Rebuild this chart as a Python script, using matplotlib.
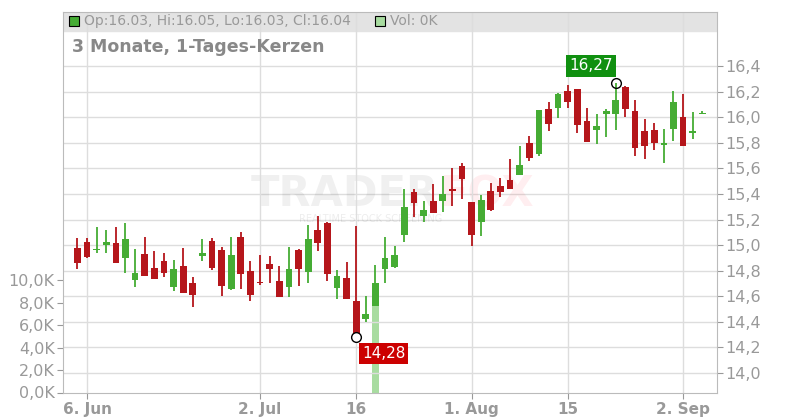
import matplotlib
matplotlib.use("Agg")
import matplotlib.pyplot as plt
import numpy as np
import pandas as pd
from matplotlib.patches import Rectangle

dates = pd.bdate_range("2024-06-05", periods=66)
opens = [14.977,15.024,14.967,15.003,15.016,14.902,14.730,14.930,14.821,14.875,14.675,14.836,14.704,14.917,15.032,14.961,14.654,15.063,14.797,14.719,
         14.852,14.719,14.675,14.961,14.792,15.118,15.172,14.667,14.743,14.562,14.419,14.523,14.815,14.831,15.081,15.416,15.229,15.344,15.346,15.437,
         15.617,15.338,15.180,15.422,15.461,15.508,15.547,15.794,15.711,16.060,16.073,16.203,16.218,15.969,15.903,16.021,16.028,16.237,16.047,15.893,
         15.898,15.789,15.906,16.002,15.885,16.030]
highs = [15.058,15.058,15.144,15.118,15.144,15.172,14.969,15.066,14.956,14.941,14.883,14.977,14.753,15.047,15.058,14.987,15.066,15.102,14.875,14.922,
         14.915,14.836,14.987,14.972,15.157,15.227,15.180,14.805,14.868,15.148,14.601,14.844,15.060,14.992,15.442,15.435,15.344,15.476,15.539,15.604,
         15.638,15.338,15.390,15.487,15.526,15.672,15.773,15.851,16.054,16.119,16.192,16.255,16.223,16.075,16.023,16.060,16.270,16.242,16.132,15.984,
         15.955,15.906,16.205,16.177,16.041,16.050]
lows = [14.813,14.896,14.941,14.941,14.862,14.784,14.675,14.758,14.737,14.753,14.644,14.628,14.519,14.878,14.805,14.605,14.649,14.659,14.566,14.691,
        14.706,14.592,14.597,14.683,14.706,14.956,14.722,14.576,14.581,14.280,14.401,14.523,14.706,14.818,15.026,15.221,15.182,15.252,15.260,15.307,
        15.364,14.992,15.070,15.268,15.372,15.437,15.547,15.658,15.695,15.893,15.995,16.075,15.877,15.807,15.789,15.846,15.903,16.002,15.695,15.672,
        15.747,15.643,15.815,15.773,15.828,16.030]
closes = [14.862,14.907,14.967,15.024,14.862,15.047,14.782,14.758,14.737,14.784,14.813,14.628,14.610,14.941,14.821,14.683,14.922,14.777,14.613,14.709,
          14.816,14.597,14.813,14.816,15.047,15.019,14.777,14.758,14.581,14.280,14.461,14.700,14.903,14.919,15.294,15.331,15.273,15.252,15.398,15.424,
          15.515,15.078,15.351,15.273,15.416,15.437,15.625,15.682,16.054,15.945,16.184,16.119,15.942,15.807,15.929,16.047,16.132,16.065,15.760,15.776,
          15.799,15.789,16.119,15.773,15.885,16.040]
volumes = [0]*66
volumes[31] = 7700
doji_green = {2, 61, 64, 65}

xtick_idx = [1, 19, 29, 41, 51, 63]
xtick_labels = ["6. Jun", "2. Jul", "16", "1. Aug", "15", "2. Sep"]
price_ticks = [14.0, 14.2, 14.4, 14.6, 14.8, 15.0, 15.2, 15.4, 15.6, 15.8, 16.0, 16.2, 16.4]
vol_ticks = [0, 2000, 4000, 6000, 8000, 10000]

RED = "#b5161b"; GREEN = "#45ac34"; GRAY = "#999999"; GRID = "#dddddd"

fig = plt.figure(figsize=(8, 4.2), dpi=100)
W, H = 800, 420
ax = fig.add_axes([63/W, 1-392.5/H, (716.7-63)/W, (392.5-11.7)/H])
x = np.arange(len(dates))
ax.set_xlim(-1.5, 64.5 + (716.7 - (68.3 + 64*9.9)) / 9.9 + 0.5)
ax.set_ylim(13.848, 16.824)

axv = ax.twinx()
axv.set_ylim(0, 381/11.25*1000)
axv.bar(x, volumes, width=0.7, color="#a8dca0", zorder=1)
axv.yaxis.tick_left()
axv.set_yticks(vol_ticks)
axv.set_yticklabels([f"{v/1000:.1f}K".replace(".", ",") for v in vol_ticks])
axv.tick_params(axis="y", colors=GRAY, labelcolor=GRAY, labelsize=11.5, length=4, pad=2)
for s in axv.spines.values():
    s.set_visible(False)
ax.set_zorder(axv.get_zorder() + 1)
ax.patch.set_visible(False)

for v in price_ticks:
    ax.axhline(v, color=GRID, lw=1, zorder=0)
for i in xtick_idx:
    ax.axvline(i, color=GRID, lw=1, zorder=0.7)

ax.axhspan(16.824 - 19/128, 16.824, color="#e3e3e3", zorder=0.5)

ax.text(0.575, 0.52, "TRADER", transform=ax.transAxes, ha="right", va="center",
        fontsize=30, fontweight="bold", color="#000000", alpha=0.06, zorder=0.6)
ax.text(0.575, 0.52, "FOX", transform=ax.transAxes, ha="left", va="center",
        fontsize=30, fontweight="bold", color="#ff3040", alpha=0.08, zorder=0.6)
ax.text(0.47, 0.455, "REALTIME STOCK SCREENING", transform=ax.transAxes, ha="center", va="center",
        fontsize=7, color="#000000", alpha=0.07, zorder=0.6)

for i in x:
    o, h, l, c = opens[i], highs[i], lows[i], closes[i]
    col = GREEN if (c > o or i in doji_green) else RED
    ax.vlines(i, l, h, color=col, lw=1.3, zorder=3)
    bh = max(abs(c - o), 0.012)
    ax.bar(i, bh, bottom=min(o, c) - (0.006 if abs(c-o) < 0.012 else 0), width=0.7, color=col, zorder=4, lw=0)

imin = int(np.argmin(lows)); imax = int(np.argmax(highs))
ax.plot(imin, lows[imin], "o", mfc="white", mec="black", ms=7, mew=1, zorder=5)
ax.plot(imax, highs[imax], "o", mfc="none", mec="black", ms=7, mew=1, zorder=5)
ax.text(imin + 0.6, lows[imin] - 0.13, f"{lows[imin]:.2f}".replace(".", ","), color="white", fontsize=11,
        ha="left", va="center", bbox=dict(boxstyle="square,pad=0.2", fc="#cc0000", ec="none"), zorder=6)
ax.text(imax - 0.3, highs[imax] + 0.13, f"{highs[imax]:.2f}".replace(".", ","), color="white", fontsize=11,
        ha="right", va="center", bbox=dict(boxstyle="square,pad=0.2", fc="#109010", ec="none"), zorder=6)

ax.yaxis.tick_right()
ax.set_yticks(price_ticks)
ax.set_yticklabels([f"{v:.1f}".replace(".", ",") for v in price_ticks])
ax.tick_params(axis="y", colors=GRAY, labelcolor=GRAY, labelsize=11.5, length=4, pad=2)
ax.set_xticks(xtick_idx)
ax.set_xticklabels(xtick_labels, fontweight="bold")
ax.tick_params(axis="x", colors=GRAY, labelcolor=GRAY, labelsize=11, length=4, pad=3)
for s in ax.spines.values():
    s.set_color("#bbbbbb")

fig.patches.append(Rectangle((69/W, 1-26/H), 10/W, 10/H, transform=fig.transFigure, fc=GREEN, ec="black", lw=0.8))
fig.text(84/W, 1-21/H, "Op:16.03, Hi:16.05, Lo:16.03, Cl:16.04", color=GRAY, fontsize=10, va="center")
fig.patches.append(Rectangle((375/W, 1-26/H), 10/W, 10/H, transform=fig.transFigure, fc="#a8dca0", ec="black", lw=0.8))
fig.text(390/W, 1-21/H, "Vol: 0K", color=GRAY, fontsize=10, va="center")
fig.text(72/W, 1-47/H, "3 Monate, 1-Tages-Kerzen", color="#888888", fontsize=12.5, fontweight="bold", va="center")

fig.savefig("out.png", dpi=100)
